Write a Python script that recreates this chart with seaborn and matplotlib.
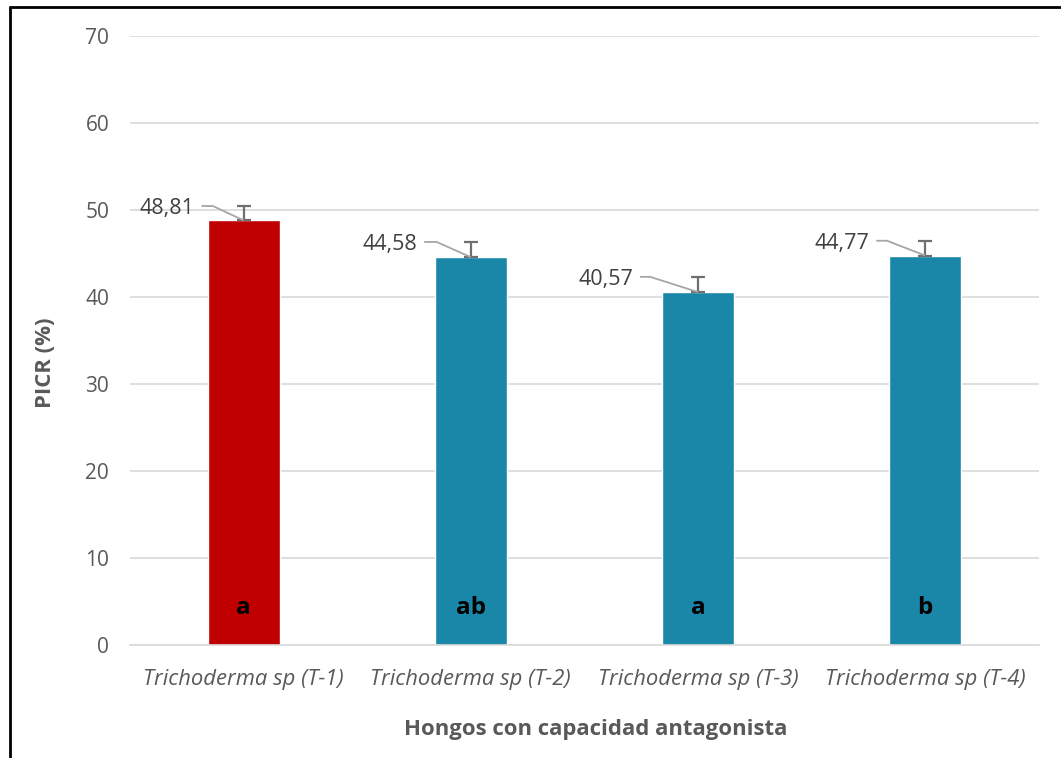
import matplotlib
matplotlib.use("Agg")
import matplotlib.pyplot as plt
from matplotlib.lines import Line2D
import seaborn as sns
import pandas as pd

# Data
cepas = ["Trichoderma sp (T-1)", "Trichoderma sp (T-2)",
         "Trichoderma sp (T-3)", "Trichoderma sp (T-4)"]
picr = [48.81, 44.58, 40.57, 44.77]
error = [1.65, 1.75, 1.75, 1.70]
grupos = ["a", "ab", "a", "b"]
colores = ["#C00000", "#1A87A8", "#1A87A8", "#1A87A8"]
y_ticks = [0, 10, 20, 30, 40, 50, 60, 70]

# Leader-line layout for the value labels (in category units, left of bar centre)
lead_start = [-0.185, -0.205, -0.255, -0.215]
lead_bend = [-0.135, -0.150, -0.210, -0.168]

sns.set_theme(style="white")
plt.rcParams["font.family"] = ["Open Sans", "DejaVu Sans"]

df = pd.DataFrame({"cepa": cepas, "picr": picr})

fig = plt.figure(figsize=(10.61, 7.58), dpi=100)
ax = fig.add_axes([0.1225, 0.149, 0.8565, 0.8035])

sns.barplot(data=df, x="cepa", y="picr", hue="cepa", palette=colores,
            width=0.317, legend=False, ax=ax, saturation=1)

# Upper-only error bars
xs = list(range(len(cepas)))
ax.errorbar(xs, picr, yerr=[[0] * len(error), error], fmt="none",
            ecolor="#6F6F6F", elinewidth=1.6, capsize=5, capthick=1.6, zorder=3)

# Value labels with leader lines
for i, (v, e) in enumerate(zip(picr, error)):
    yh = v + e
    ax.plot([i + lead_start[i], i + lead_bend[i], i], [yh, yh, v],
            color="#A6A6A6", lw=1.3, zorder=4, solid_capstyle="butt")
    ax.text(i + lead_start[i] - 0.03, yh - 0.3, f"{v:.2f}".replace(".", ","),
            ha="right", va="center", fontsize=15.5, color="#404040")

# Significance letters inside bars
for i, g in enumerate(grupos):
    ax.text(i, 4.3, g, ha="center", va="center", fontsize=17.5,
            fontweight="bold", color="black")

ax.set_ylim(0, 70)
ax.set_xlim(-0.5, len(cepas) - 0.5)
ax.set_yticks(y_ticks)
ax.set_yticklabels([str(t) for t in y_ticks], fontsize=15, color="#595959")
ax.tick_params(axis="y", length=0, pad=15)
ax.tick_params(axis="x", length=0, pad=17)
for lab in ax.get_xticklabels():
    lab.set_fontstyle("italic")
    lab.set_fontsize(15.8)
    lab.set_color("#595959")

ax.yaxis.grid(True, color="#D9D9D9", lw=1.2)
ax.set_axisbelow(True)
for s in ["top", "right", "left"]:
    ax.spines[s].set_visible(False)
ax.spines["bottom"].set_color("#D9D9D9")
ax.spines["bottom"].set_linewidth(1.2)

ax.set_xlabel("Hongos con capacidad antagonista", fontsize=15.9,
              fontweight="bold", color="#595959")
ax.set_ylabel("PICR (%)", fontsize=15.9, fontweight="bold", color="#595959")
ax.xaxis.set_label_coords(0.512, -0.122)
ax.yaxis.set_label_coords(-0.081, 0.463)

# Outer frame (left and top edges)
fig.add_artist(Line2D([9.5 / 1061, 9.5 / 1061], [0, 1 - 7 / 758],
                      transform=fig.transFigure, color="black", lw=2))
fig.add_artist(Line2D([9.5 / 1061, 1], [1 - 7 / 758, 1 - 7 / 758],
                      transform=fig.transFigure, color="black", lw=2))

fig.savefig("out.png", dpi=100)
